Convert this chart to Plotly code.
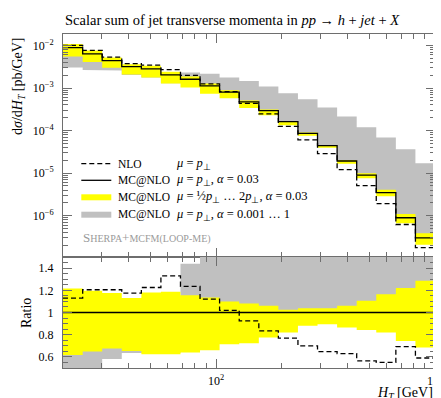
import numpy as np
import plotly.graph_objects as go

# bin edges in H_T [GeV]
edges = [20.0, 24.6, 30.2, 37.1, 45.6, 56.0, 68.8, 84.5, 103.8, 127.6, 156.8,
         192.6, 236.6, 290.7, 357.2, 438.9, 539.2, 662.5, 813.9, 1000.0]

# MC@NLO central (mu = p_T, alpha = 0.03) [pb/GeV]
mcnlo = [8.95e-3, 6.35e-3, 4.43e-3, 3.20e-3, 2.82e-3, 2.04e-3, 1.61e-3, 1.12e-3,
         8.04e-4, 4.72e-4, 2.95e-4, 1.63e-4, 8.63e-5, 4.44e-5, 1.93e-5, 9.02e-6,
         3.48e-6, 8.97e-7, 3.03e-7]

# ratios to MC@NLO central
nlo_ratio = [1.13, 1.205, 1.205, 1.175, 1.225, 1.33, 1.235, 1.12, 1.02, 0.925,
             0.835, 0.77, 0.70, 0.648, 0.63, 0.565, 0.55, 0.693, 0.59]
scale_hi = [1.217, 1.196, 1.175, 1.13, 1.18, 1.187, 1.156, 1.135, 1.10, 1.08,
            1.06, 1.024, 1.039, 1.039, 1.06, 1.105, 1.165, 1.22, 1.286]
scale_lo = [0.618, 0.648, 0.675, 0.654, 0.624, 0.624, 0.639, 0.66, 0.714, 0.723,
            0.774, 0.819, 0.88, 0.894, 0.865, 0.843, 0.819, 0.744, 0.684]
alpha_hi = [1.0, 1.0, 1.0, 1.0, 1.0, 1.0, 1.44, 1.93, 2.2, 3.11,
            3.67, 4.63, 6.3, 7.83, 11.1, 13.3, 19.7, 40.5, 56.1]
alpha_lo = [0.34, 0.42, 0.58, 0.635, 0.63, 0.635, 0.95, 0.95, 0.95, 0.95,
            0.95, 0.95, 0.95, 0.95, 0.95, 0.95, 0.95, 0.95, 0.95]

# tick labels
xtick_vals = [100, 1000]
xtick_text = ["10<sup>2</sup>", "10<sup>3</sup>"]
ytick_vals = [1e-6, 1e-5, 1e-4, 1e-3, 1e-2]
ytick_text = ["10<sup>\u22126</sup>", "10<sup>\u22125</sup>", "10<sup>\u22124</sup>",
              "10<sup>\u22123</sup>", "10<sup>\u22122</sup>"]
rtick_vals = [0.6, 0.8, 1.0, 1.2, 1.4]
rtick_text = ["0.6", "0.8", "1", "1.2", "1.4"]

e = np.array(edges)
c = np.array(mcnlo)

def step(vals):
    v = list(vals)
    return list(e), v + [v[-1]]

def band(lo, hi):
    xs, ys = [], []
    for i in range(len(hi)):
        xs += [e[i], e[i + 1]]
        ys += [hi[i], hi[i]]
    for i in reversed(range(len(lo))):
        xs += [e[i + 1], e[i]]
        ys += [lo[i], lo[i]]
    return xs, ys

FONT = "Liberation Serif"
GREY = "#c0c0c0"
YEL = "#ffff00"
DASH = "5px,3px"

fig = go.Figure()
for xa, ya, scale in [("x", "y", c), ("x2", "y2", np.ones_like(c))]:
    gx, gy = band(np.array(alpha_lo) * scale, np.array(alpha_hi) * scale)
    fig.add_trace(go.Scatter(x=gx, y=gy, fill="toself", fillcolor=GREY, mode="lines",
                             line=dict(width=0), xaxis=xa, yaxis=ya, hoverinfo="skip"))
    yx, yy = band(np.array(scale_lo) * scale, np.array(scale_hi) * scale)
    fig.add_trace(go.Scatter(x=yx, y=yy, fill="toself", fillcolor=YEL, mode="lines",
                             line=dict(width=0), xaxis=xa, yaxis=ya, hoverinfo="skip"))
    sx, sy = step(np.array(nlo_ratio) * scale)
    fig.add_trace(go.Scatter(x=sx, y=sy, mode="lines", line_shape="hv",
                             line=dict(color="black", width=1.3, dash=DASH), xaxis=xa, yaxis=ya))
    sx, sy = step(c / c * scale)
    fig.add_trace(go.Scatter(x=sx, y=sy, mode="lines", line_shape="hv",
                             line=dict(color="black", width=1.3), xaxis=xa, yaxis=ya))

L, R, T, B = 55, 14, 26, 38
W, H = 441, 398
PW, PH = W - L - R, H - T - B
split = 111 / PH

xminor = [30, 40, 50, 60, 70, 80, 90, 200, 300, 400, 500, 600, 700, 800, 900]
ymin = [m * 10.0 ** k for k in range(-7, -1) for m in range(2, 10)]
rmin = [0.5 + 0.05 * i for i in range(21)]

axcol = "#6e6e6e"
common = dict(showline=True, linecolor=axcol, linewidth=1, mirror="allticks",
              ticks="inside", ticklen=9, tickcolor=axcol, tickwidth=1,
              showgrid=False, zeroline=False,
              tickfont=dict(family=FONT, size=12, color="black"))

fig.update_layout(
    width=W, height=H, showlegend=False,
    margin=dict(l=L, r=R, t=T, b=B),
    paper_bgcolor="white", plot_bgcolor="white",
    xaxis=dict(type="log", range=[np.log10(20), 3], domain=[0, 1], anchor="y",
               tickvals=xtick_vals, showticklabels=False, matches="x2",
               minor=dict(tickvals=xminor, ticks="inside", ticklen=5, tickcolor=axcol),
               **common),
    yaxis=dict(type="log", range=[-6.97, -1.73], domain=[split, 1], anchor="x",
               tickvals=ytick_vals, ticktext=ytick_text, ticklabelstandoff=6,
               minor=dict(tickvals=ymin, ticks="inside", ticklen=5, tickcolor=axcol),
               **common),
    xaxis2=dict(type="log", range=[np.log10(20), 3], domain=[0, 1], anchor="y2",
                tickvals=xtick_vals, showticklabels=False,
                minor=dict(tickvals=xminor, ticks="inside", ticklen=5, tickcolor=axcol),
                **common),
    yaxis2=dict(range=[0.5, 1.5], domain=[0, split], anchor="x2",
                tickvals=rtick_vals, ticktext=rtick_text, ticklabelstandoff=6,
                minor=dict(tickvals=rmin, ticks="inside", ticklen=5, tickcolor=axcol),
                **common),
)

def px(xp):
    return (xp - L) / PW

def py(yp):
    return (H - B - yp) / PH

ann = []
ann.append(dict(x=px(55), y=py(12), xref="paper", yref="paper", xanchor="left", yanchor="middle",
                showarrow=False, font=dict(family=FONT, size=14.5, color="black"),
                text="Scalar sum of jet transverse momenta in <i>pp</i> \u2192 <i>h</i> + <i>jet</i> + <i>X</i>"))
for v, t in zip(xtick_vals, xtick_text):
    ann.append(dict(x=np.log10(v), xref="x2", y=py(372), yref="paper", xanchor="center",
                    yanchor="middle", showarrow=False,
                    font=dict(family=FONT, size=12, color="black"), text=t))
ann.append(dict(x=px(11), y=py(27), xref="paper", yref="paper", xanchor="center", yanchor="top",
                textangle=-90, showarrow=False, font=dict(family=FONT, size=14, color="black"),
                text="d<i>\u03c3</i>/d<i>H</i><sub><i>T</i></sub> [pb/GeV]"))
ann.append(dict(x=px(18), y=py(305), xref="paper", yref="paper", xanchor="center", yanchor="middle",
                textangle=-90, showarrow=False, font=dict(family=FONT, size=14, color="black"),
                text="Ratio"))
ann.append(dict(x=px(427), y=py(385), xref="paper", yref="paper", xanchor="right", yanchor="middle",
                showarrow=False, font=dict(family=FONT, size=14, color="black"),
                text="<i>H</i><sub><i>T</i></sub> [GeV]"))

rows = [155.7, 172.3, 189.3, 206.7]
col1 = ["NLO", "MC@NLO", "MC@NLO", "MC@NLO"]
col2 = ["<i>\u03bc</i> = <i>p</i><sub>\u22a5</sub>",
        "<i>\u03bc</i> = <i>p</i><sub>\u22a5</sub>, <i>\u03b1</i> = 0.03",
        "<i>\u03bc</i> = \u00bd<i>p</i><sub>\u22a5</sub> \u2026 2<i>p</i><sub>\u22a5</sub>, <i>\u03b1</i> = 0.03",
        "<i>\u03bc</i> = <i>p</i><sub>\u22a5</sub>, <i>\u03b1</i> = 0.001 \u2026 1"]
for yrow, t1, t2 in zip(rows, col1, col2):
    ann.append(dict(x=px(108), y=py(yrow), xref="paper", yref="paper", xanchor="left",
                    yanchor="middle", showarrow=False,
                    font=dict(family=FONT, size=11.5, color="black"), text=t1))
    ann.append(dict(x=px(166), y=py(yrow), xref="paper", yref="paper", xanchor="left",
                    yanchor="middle", showarrow=False,
                    font=dict(family=FONT, size=12.5, color="black"), text=t2))

ann.append(dict(x=px(73), y=py(230), xref="paper", yref="paper", xanchor="left", yanchor="middle",
                showarrow=False, font=dict(family=FONT, size=13, color="#9a9a9a"),
                text="S<span style='font-size:10px'>HERPA</span>+<span style='font-size:10px'>MCFM(LOOP-ME)</span>"))
fig.update_layout(annotations=ann)

shapes = [
    dict(type="line", xref="paper", yref="paper", x0=px(73.3), x1=px(103.3), y0=py(rows[0]), y1=py(rows[0]),
         line=dict(color="black", width=1.3, dash=DASH)),
    dict(type="line", xref="paper", yref="paper", x0=px(73.3), x1=px(103.3), y0=py(rows[1]), y1=py(rows[1]),
         line=dict(color="black", width=1.3)),
    dict(type="rect", xref="paper", yref="paper", x0=px(73.3), x1=px(103.3), y0=py(rows[2] + 3), y1=py(rows[2] - 3),
         fillcolor=YEL, line=dict(width=0)),
    dict(type="rect", xref="paper", yref="paper", x0=px(73.3), x1=px(103.3), y0=py(rows[3] + 3), y1=py(rows[3] - 3),
         fillcolor=GREY, line=dict(width=0)),
]
fig.update_layout(shapes=shapes)

fig.write_html("out.html")
